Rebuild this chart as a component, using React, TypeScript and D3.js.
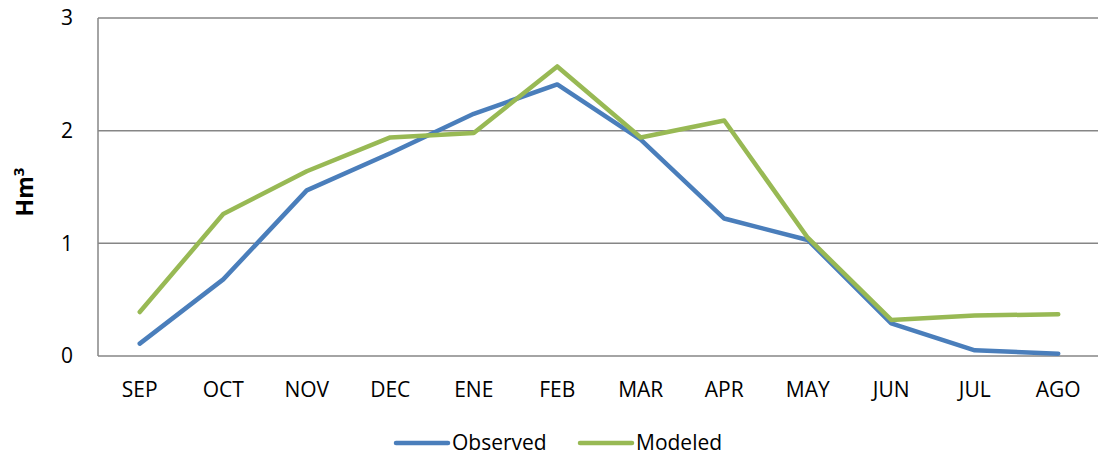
import React, { useEffect, useRef } from 'react';
import * as d3 from 'd3';

const months = ['SEP', 'OCT', 'NOV', 'DEC', 'ENE', 'FEB', 'MAR', 'APR', 'MAY', 'JUN', 'JUL', 'AGO'];
const observed = [0.11, 0.68, 1.47, 1.8, 2.15, 2.41, 1.92, 1.22, 1.03, 0.29, 0.05, 0.02];
const modeled = [0.39, 1.26, 1.64, 1.94, 1.98, 2.57, 1.94, 2.09, 1.05, 0.32, 0.36, 0.37];
const yTicks = [0, 1, 2, 3];

const seriesList = [
  { name: 'Observed', values: observed, color: '#4a7ebb' },
  { name: 'Modeled', values: modeled, color: '#98b954' },
];

const font = "'Open Sans', 'Liberation Sans', sans-serif";

export default function App() {
  const ref = useRef<SVGSVGElement>(null);

  useEffect(() => {
    const left = 98, right = 1098, top = 18, bottom = 356;

    const svg = d3.select(ref.current);
    svg.selectAll('*').remove();

    const x = d3.scaleBand().domain(months).range([left, right + 2]);
    const y = d3.scaleLinear().domain([0, 3]).range([bottom, top]);

    // gridlines
    svg.append('g')
      .selectAll('line')
      .data(yTicks.filter(d => d > 0))
      .enter().append('line')
      .attr('x1', left).attr('x2', right)
      .attr('y1', d => y(d)).attr('y2', d => y(d))
      .attr('stroke', '#868686').attr('stroke-width', 1.5);

    // axis lines
    svg.append('line')
      .attr('x1', left).attr('x2', left).attr('y1', top).attr('y2', bottom)
      .attr('stroke', '#868686').attr('stroke-width', 1.5);
    svg.append('line')
      .attr('x1', left).attr('x2', right).attr('y1', bottom).attr('y2', bottom)
      .attr('stroke', '#868686').attr('stroke-width', 1.5);

    // y tick labels
    svg.append('g')
      .selectAll('text')
      .data(yTicks)
      .enter().append('text')
      .attr('x', 73).attr('y', d => y(d))
      .attr('dy', '0.35em')
      .attr('text-anchor', 'end')
      .style('font-family', font).style('font-size', '21px')
      .text(d => d);

    // x tick labels
    svg.append('g')
      .selectAll('text')
      .data(months)
      .enter().append('text')
      .attr('x', d => (x(d) as number) + x.bandwidth() / 2)
      .attr('y', 397)
      .attr('text-anchor', 'middle')
      .style('font-family', font).style('font-size', '21px')
      .text(d => d);

    // y axis title
    const title = svg.append('text')
      .attr('transform', 'translate(33,' + ((top + bottom) / 2 + 5) + ') rotate(-90)')
      .attr('text-anchor', 'middle')
      .style('font-family', font).style('font-size', '23px').style('font-weight', 'bold');
    title.append('tspan').text('Hm');
    title.append('tspan').attr('dy', -9).style('font-size', '15px').text('3');

    const line = d3.line<number>()
      .x((d, i) => (x(months[i]) as number) + x.bandwidth() / 2)
      .y(d => y(d));

    seriesList.forEach(s => {
      svg.append('path')
        .datum(s.values)
        .attr('d', line)
        .attr('fill', 'none')
        .attr('stroke', s.color)
        .attr('stroke-width', 4.5)
        .attr('stroke-linejoin', 'round')
        .attr('stroke-linecap', 'round');
    });

    // legend
    const legendX = [396, 580];
    seriesList.forEach((s, i) => {
      const g = svg.append('g').attr('transform', 'translate(' + legendX[i] + ',443)');
      g.append('line')
        .attr('x1', 0).attr('x2', 52).attr('y1', 0).attr('y2', 0)
        .attr('stroke', s.color).attr('stroke-width', 4.5).attr('stroke-linecap', 'round');
      g.append('text')
        .attr('x', 56).attr('y', 7)
        .style('font-family', font).style('font-size', '21px')
        .text(s.name);
    });
  }, []);

  return (
    <svg ref={ref} width={1098} height={456}
      style={{ position: 'absolute', left: 0, top: 0, background: '#fff' }} />
  );
}
